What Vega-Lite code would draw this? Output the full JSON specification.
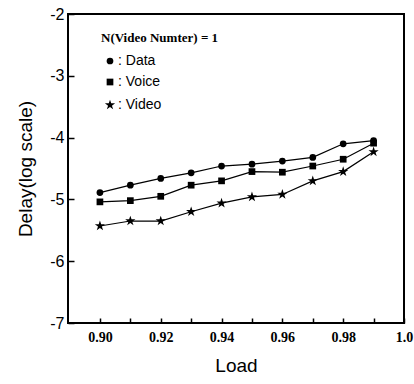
{
  "$schema": "https://vega.github.io/schema/vega-lite/v6.json",
  "width": 336,
  "height": 309,
  "autosize": "none",
  "padding": {"left": 68, "top": 14, "right": 10, "bottom": 61},
  "background": "white",
  "config": {
    "view": {"stroke": "black", "strokeWidth": 2},
    "axis": {"grid": false, "domain": false}
  },
  "data": {
    "values": [
      {"load": 0.90, "series": "Data", "delay": -4.89},
      {"load": 0.91, "series": "Data", "delay": -4.77},
      {"load": 0.92, "series": "Data", "delay": -4.66},
      {"load": 0.93, "series": "Data", "delay": -4.57},
      {"load": 0.94, "series": "Data", "delay": -4.46},
      {"load": 0.95, "series": "Data", "delay": -4.43},
      {"load": 0.96, "series": "Data", "delay": -4.38},
      {"load": 0.97, "series": "Data", "delay": -4.32},
      {"load": 0.98, "series": "Data", "delay": -4.10},
      {"load": 0.99, "series": "Data", "delay": -4.05},
      {"load": 0.90, "series": "Voice", "delay": -5.04},
      {"load": 0.91, "series": "Voice", "delay": -5.02},
      {"load": 0.92, "series": "Voice", "delay": -4.95},
      {"load": 0.93, "series": "Voice", "delay": -4.77},
      {"load": 0.94, "series": "Voice", "delay": -4.70},
      {"load": 0.95, "series": "Voice", "delay": -4.55},
      {"load": 0.96, "series": "Voice", "delay": -4.56},
      {"load": 0.97, "series": "Voice", "delay": -4.46},
      {"load": 0.98, "series": "Voice", "delay": -4.35},
      {"load": 0.99, "series": "Voice", "delay": -4.09},
      {"load": 0.90, "series": "Video", "delay": -5.43},
      {"load": 0.91, "series": "Video", "delay": -5.35},
      {"load": 0.92, "series": "Video", "delay": -5.35},
      {"load": 0.93, "series": "Video", "delay": -5.20},
      {"load": 0.94, "series": "Video", "delay": -5.06},
      {"load": 0.95, "series": "Video", "delay": -4.96},
      {"load": 0.96, "series": "Video", "delay": -4.92},
      {"load": 0.97, "series": "Video", "delay": -4.70},
      {"load": 0.98, "series": "Video", "delay": -4.55},
      {"load": 0.99, "series": "Video", "delay": -4.23}
    ]
  },
  "encoding": {
    "x": {
      "field": "load", "type": "quantitative",
      "scale": {"domain": [0.8895, 1.0], "nice": false, "zero": false},
      "axis": {
        "title": "Load",
        "titleFont": "Liberation Sans", "titleFontSize": 19, "titleFontWeight": "normal", "titleColor": "black", "titlePadding": 12,
        "values": [0.90, 0.91, 0.92, 0.93, 0.94, 0.95, 0.96, 0.97, 0.98, 0.99, 1.0],
        "labelExpr": "datum.value == 1 ? '1.0' : (round(datum.value * 100) % 2 == 0 ? format(datum.value, '.2f') : '')",
        "labelFont": "Liberation Serif", "labelFontSize": 14, "labelFontWeight": "bold", "labelColor": "black",
        "labelPadding": 12, "labelFlush": false, "labelOverlap": false,
        "tickSize": -5, "tickColor": "black", "tickWidth": 1.5
      }
    },
    "y": {
      "field": "delay", "type": "quantitative",
      "scale": {"domain": [-7, -2], "nice": false, "zero": false},
      "axis": {
        "title": "Delay(log scale)",
        "titleFont": "Liberation Sans", "titleFontSize": 19, "titleFontWeight": "normal", "titleColor": "black", "titlePadding": 14,
        "values": [-7, -6, -5, -4, -3, -2],
        "labelExpr": "'-' + abs(datum.value)",
        "labelFont": "Liberation Sans", "labelFontSize": 16, "labelColor": "black",
        "labelPadding": 10, "labelFlush": false,
        "tickSize": -6, "tickColor": "black", "tickWidth": 1.5
      }
    }
  },
  "layer": [
    {
      "mark": {"type": "line", "color": "black", "strokeWidth": 1.2},
      "encoding": {"detail": {"field": "series"}}
    },
    {
      "mark": {"type": "point", "filled": true, "color": "black", "opacity": 1},
      "encoding": {
        "shape": {
          "field": "series", "type": "nominal",
          "scale": {
            "domain": ["Data", "Voice", "Video"],
            "range": ["circle", "square", "M0,-1.6L0.36,-0.494L1.522,-0.494L0.581,0.189L0.941,1.294L0,0.611L-0.941,1.294L-0.581,0.189L-1.522,-0.494L-0.36,-0.494Z"]
          },
          "legend": {
            "title": "N(Video Numter) = 1",
            "orient": "none", "legendX": 33, "legendY": 18,
            "titleFont": "Liberation Serif", "titleFontSize": 13, "titleFontWeight": "bold", "titleColor": "black", "titlePadding": 9,
            "labelExpr": "': ' + datum.label",
            "labelFont": "Liberation Sans", "labelFontSize": 14, "labelColor": "black",
            "symbolFillColor": "black", "symbolStrokeColor": "black", "symbolSize": 45, "symbolOffset": 2,
            "labelOffset": 1, "rowPadding": 7
          }
        },
        "size": {"value": 45}
      }
    }
  ]
}
